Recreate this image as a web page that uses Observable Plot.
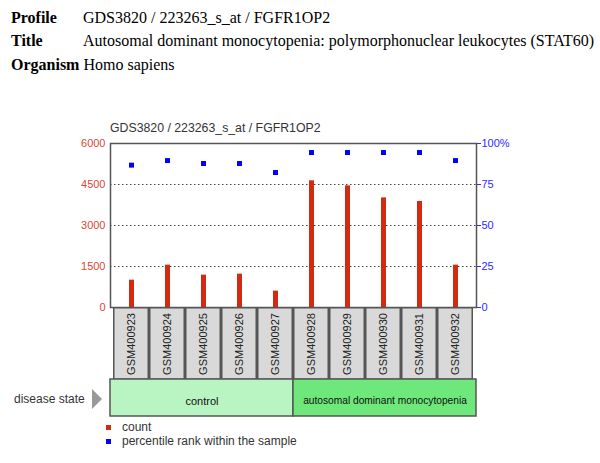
<!DOCTYPE html>
<html>
<head>
<meta charset="utf-8">
<script src="https://cdn.jsdelivr.net/npm/d3@7"></script>
<script src="https://cdn.jsdelivr.net/npm/@observablehq/plot@0.6"></script>
<style>
  body { margin: 0; background: #fff; }
  #wrap { position: relative; width: 600px; height: 463px; overflow: hidden; font-family: "Liberation Sans", Arial, sans-serif; }
  .hd { position: absolute; font-family: "Liberation Serif", "Times New Roman", serif; font-size: 16px; line-height: 20px; color: #000; white-space: nowrap; }
  .hd b { font-weight: bold; }
  .abs { position: absolute; }
  svg { overflow: visible; }
</style>
</head>
<body>
<div id="wrap">
  <div class="hd" style="left:11px; top:8px"><b>Profile</b></div>
  <div class="hd" style="left:83px; top:8px">GDS3820 / 223263_s_at / FGFR1OP2</div>
  <div class="hd" style="left:11px; top:31px"><b>Title</b></div>
  <div class="hd" style="left:83px; top:31px">Autosomal dominant monocytopenia: polymorphonuclear leukocytes (STAT60)</div>
  <div class="hd" style="left:11px; top:55px"><b>Organism</b> Homo sapiens</div>

  <div class="abs" id="ctitle" style="left:110px; top:120px; font-size:12.3px; line-height:16px; color:#333; white-space:nowrap;"></div>
  <div class="abs" id="main" style="left:0; top:88px;"></div>
  <div class="abs" id="labels" style="left:0; top:307px;"></div>
  <div class="abs" id="disease" style="left:0; top:379px;"></div>

  <div class="abs" style="left:14px; top:391px; font-size:12px; line-height:16px; color:#333;">disease state</div>
  <div class="abs" style="left:92px; top:389px; width:0; height:0; border-top:10px solid transparent; border-bottom:10px solid transparent; border-left:10px solid #999;"></div>

  <div class="abs" id="legend" style="left:106px; top:420px; font-size:12px; line-height:14px; color:#333;"></div>
</div>
<script>
const chartTitle = "GDS3820 / 223263_s_at / FGFR1OP2";
const samples = ["GSM400923","GSM400924","GSM400925","GSM400926","GSM400927","GSM400928","GSM400929","GSM400930","GSM400931","GSM400932"];
const counts = [1000, 1550, 1185, 1220, 600, 4635, 4450, 4010, 3880, 1550];
const percentiles = [86.8, 89.6, 87.8, 87.8, 82.3, 94.5, 94.5, 94.5, 94.5, 89.6];
const groupNames = ["control", "autosomal dominant monocytopenia"];
const groupColors = ["#b9f5c2", "#6ee87a"];
const leftTicks = [0, 1500, 3000, 4500, 6000];
const rightTickLabels = ["0", "25", "50", "75", "100%"];
const gridTicks = [1500, 3000, 4500];
const legendItems = [["count", "#d42a12"], ["percentile rank within the sample", "#0000ff"]];

const countMax = 6000;
const data = samples.map((s, i) => ({sample: s, count: counts[i], pct: percentiles[i]}));

document.getElementById("ctitle").textContent = chartTitle;

const common = {
  width: 600, marginLeft: 110, marginRight: 124,
  style: {fontFamily: "Liberation Sans, Arial, sans-serif", fontSize: "11px", background: "transparent", overflow: "visible"}
};

const main = Plot.plot({
  ...common,
  height: 224, marginTop: 55, marginBottom: 5,
  x: {type: "band", domain: samples, padding: 0, axis: null},
  y: {domain: [0, countMax]},
  marks: [
    Plot.ruleY(gridTicks, {stroke: "#444", strokeDasharray: "1.5,2.5"}),
    Plot.ruleX(data, {x: "sample", y1: 0, y2: "count", stroke: "#d42a12", strokeWidth: 5}),
    Plot.dot(data, {x: "sample", y: d => d.pct / 100 * countMax, symbol: "square", fill: "#0000ff", r: 2.8}),
    Plot.axisY({anchor: "left", ticks: leftTicks, tickFormat: d => String(d), tickSize: 0, tickPadding: 5, color: "#e04535", label: null}),
    Plot.axisY({anchor: "right", ticks: leftTicks, tickFormat: d => rightTickLabels[leftTicks.indexOf(d)], tickSize: 4, tickPadding: 1, color: "#2b2bff", label: null}),
    Plot.frame({stroke: "#555", strokeWidth: 1.5})
  ]
});
document.getElementById("main").appendChild(main);

const labels = Plot.plot({
  ...common,
  height: 73, marginTop: 0, marginBottom: 0,
  x: {type: "band", domain: samples, padding: 0, axis: null},
  marks: [
    Plot.cell(data, {x: "sample", fill: "#d9d9d9", stroke: "#555", strokeWidth: 1.5, inset: 0.75}),
    Plot.text(data, {x: "sample", text: "sample", rotate: -90, frameAnchor: "middle", fontSize: 11, fill: "#222"})
  ]
});
document.getElementById("labels").appendChild(labels);

const groups = groupNames.map((g, i) => ({group: g, color: groupColors[i]}));
const disease = Plot.plot({
  ...common,
  height: 37, marginTop: 0, marginBottom: 0,
  x: {type: "band", domain: groupNames, padding: 0, axis: null},
  marks: [
    Plot.cell(groups, {x: "group", fill: "color", stroke: "#555", strokeWidth: 1.5}),
    Plot.text(groups, {x: "group", text: "group", frameAnchor: "middle", dy: 3, fontSize: d => d.group.length > 20 ? 10.2 : 11, fill: "#111"})
  ]
});
document.getElementById("disease").appendChild(disease);

const leg = document.getElementById("legend");
legendItems.forEach(([label, color]) => {
  const row = document.createElement("div");
  row.style.cssText = "position:relative; height:14px; white-space:nowrap;";
  row.innerHTML = `<span style="position:absolute; left:0; top:5px; width:5px; height:5px; background:${color}"></span><span style="position:absolute; left:16px; top:0">${label}</span>`;
  leg.appendChild(row);
});
</script>
</body>
</html>
